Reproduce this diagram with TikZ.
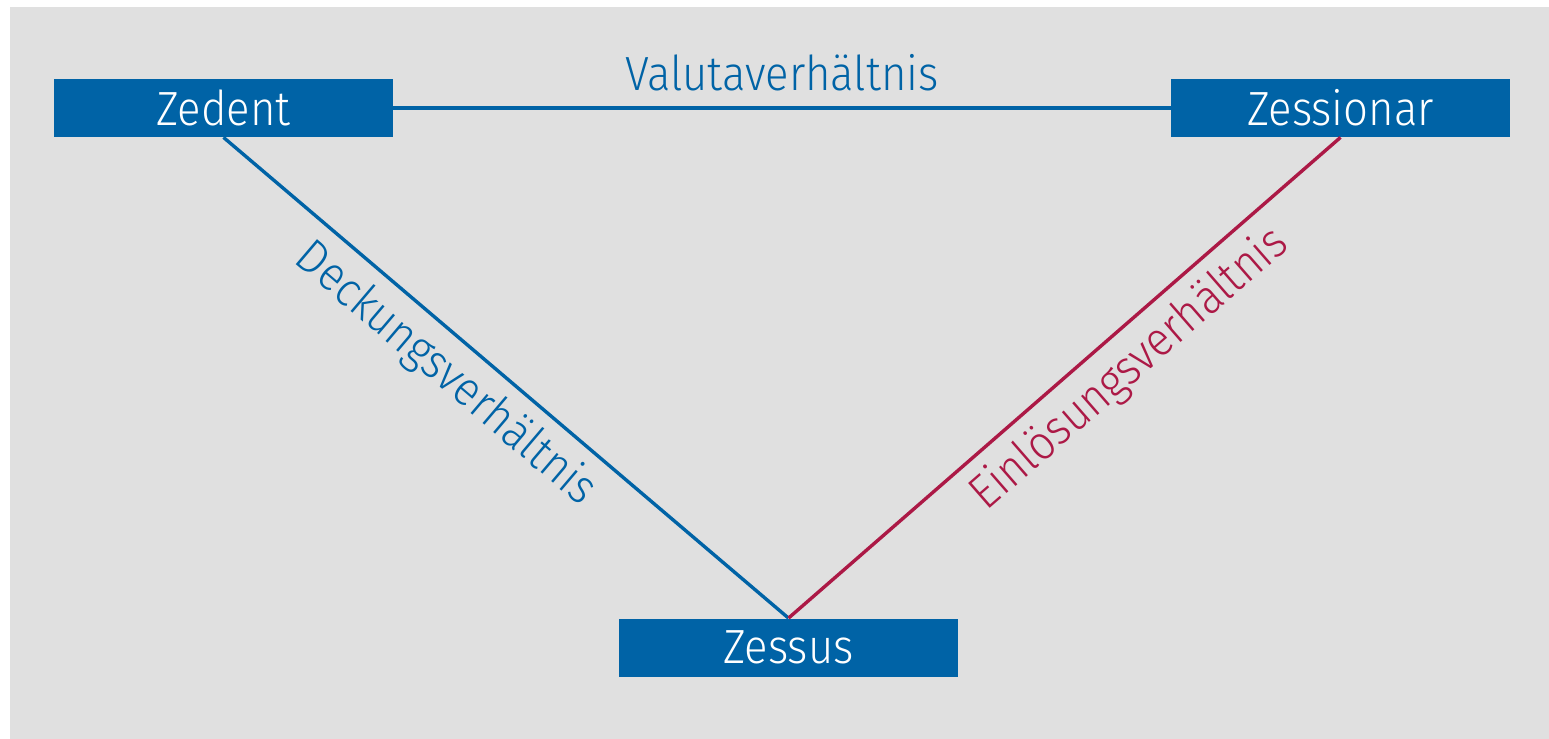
\documentclass[tikz,border=0pt]{standalone}
\usepackage{fontspec}
\setmainfont{Fira Sans}[UprightFont=* Light,FakeStretch=0.91]
\usepackage{tikz}
\definecolor{zblue}{RGB}{0,99,166}
\definecolor{zred}{RGB}{172,25,70}
\definecolor{zgray}{RGB}{224,224,224}
\tikzstyle{party} = [fill=zblue,text=white,minimum width=169.5pt,minimum height=29pt,inner sep=0pt,font=\fontsize{24}{24}\selectfont]
\tikzstyle{relation} = [line width=1.7pt]
\tikzstyle{rellabel} = [inner sep=0pt,font=\fontsize{24}{24}\selectfont]

\begin{document}
\begin{tikzpicture}[x=0.5pt,y=-0.5pt]
    \useasboundingbox (0,0) rectangle (1549,739);
    \fill[zgray] (10,7) rectangle (1549,739);

    \node[party] (zedent) at (223.5,108) {Zedent};
    \node[party] (zessionar) at (1340.5,108) {Zessionar};
    \node[party] (zessus) at (788.5,647.5) {Zessus};

    % relations
    \draw[relation,zblue] (zedent.east) -- (zessionar.west)
     node[rellabel,midway,above=7.5pt] {Valutaverhältnis};
    \draw[relation,zblue] (zedent.south) -- (zessus.north)
     node[rellabel,pos=0.435,sloped,below=6pt] {Deckungsverhältnis};
    \draw[relation,zred] (zessus.north) -- (zessionar.south)
     node[rellabel,pos=0.575,sloped,below=6pt] {Einlösungsverhältnis};
\end{tikzpicture}
\end{document}
